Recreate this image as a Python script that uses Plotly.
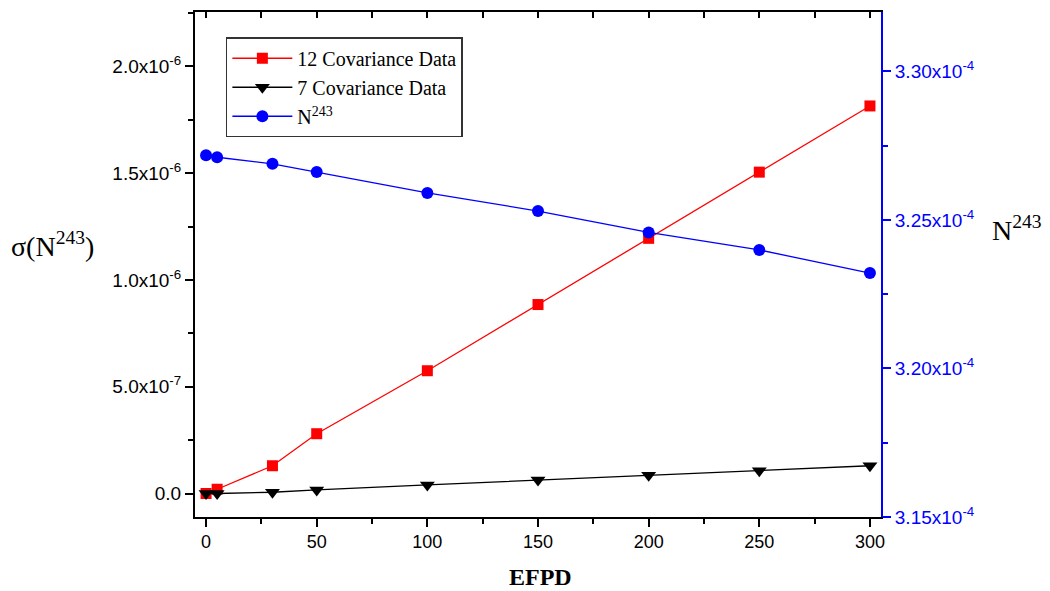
import plotly.graph_objects as go

efpd = [0, 5, 30, 50, 100, 150, 200, 250, 300]
cov12 = [0.0, 0.02e-6, 0.13e-6, 0.28e-6, 0.575e-6, 0.885e-6, 1.195e-6, 1.505e-6, 1.815e-6]
cov7 = [0.0, 0.0, 0.006e-6, 0.017e-6, 0.04e-6, 0.063e-6, 0.085e-6, 0.107e-6, 0.13e-6]
n243 = [3.2718e-4, 3.2711e-4, 3.2689e-4, 3.2661e-4, 3.2591e-4, 3.2530e-4, 3.2458e-4, 3.2399e-4, 3.2321e-4]

x_ticks = [0, 50, 100, 150, 200, 250, 300]
y_ticks = [0, 5e-7, 1e-6, 1.5e-6, 2e-6]
y_ticktext = ["0.0", "5.0x10<sup>-7</sup>", "1.0x10<sup>-6</sup>", "1.5x10<sup>-6</sup>", "2.0x10<sup>-6</sup>"]
y2_ticks = [3.15e-4, 3.20e-4, 3.25e-4, 3.30e-4]
y2_ticktext = ["3.15x10<sup>-4</sup>", "3.20x10<sup>-4</sup>", "3.25x10<sup>-4</sup>", "3.30x10<sup>-4</sup>"]

SERIF = "Liberation Serif, Times New Roman, serif"
SANS = "Liberation Sans, Arial, sans-serif"

fig = go.Figure()
fig.add_trace(go.Scatter(x=efpd, y=cov12, name="12 Covariance Data", mode="lines+markers",
                         line=dict(color="#ff0000", width=1.3),
                         marker=dict(symbol="square", size=11, color="#ff0000")))
fig.add_trace(go.Scatter(x=efpd, y=cov7, name="7 Covariance Data", mode="lines+markers",
                         line=dict(color="#000000", width=1.3),
                         marker=dict(symbol="triangle-down", size=13, color="#000000")))
fig.add_trace(go.Scatter(x=efpd, y=n243, name="N<sup>243</sup>", mode="lines+markers",
                         yaxis="y2",
                         line=dict(color="#0000ff", width=1.3),
                         marker=dict(symbol="circle", size=12, color="#0000ff")))
# dummy trace to activate the top mirror axis
fig.add_trace(go.Scatter(x=[], y=[], xaxis="x2", yaxis="y", showlegend=False, hoverinfo="skip"))

fig.update_layout(
    width=1050, height=591,
    margin=dict(l=195, r=169, t=12, b=74),
    paper_bgcolor="white", plot_bgcolor="white",
    showlegend=True,
    legend=dict(x=0.045, y=0.95, xanchor="left", yanchor="top",
                bgcolor="white", bordercolor="#333333", borderwidth=1.5,
                font=dict(family=SERIF, size=20, color="black"),
                tracegroupgap=0, itemwidth=60),
    xaxis=dict(range=[-5, 305], tickvals=x_ticks, ticks="outside", ticklen=8, tickwidth=1.5,
               tickcolor="black", showline=True, linecolor="black", linewidth=1.5,
               showgrid=False, zeroline=False,
               tickfont=dict(family=SANS, size=18, color="black"),
               minor=dict(tickmode="linear", tick0=0, dtick=25, ticks="outside", ticklen=5,
                          tickwidth=1.5, tickcolor="black", showgrid=False)),
    xaxis2=dict(range=[-5, 305], overlaying="x", side="top", tickmode="linear", tick0=0, dtick=25,
                ticks="inside", ticklen=6, tickwidth=1.5, tickcolor="black",
                showticklabels=False, showline=True, linecolor="black", linewidth=1.5,
                showgrid=False, zeroline=False),
    yaxis=dict(range=[-1.1e-7, 2.255e-6], tickvals=y_ticks, ticktext=y_ticktext,
               ticks="outside", ticklen=8, tickwidth=1.5, tickcolor="black",
               showline=True, linecolor="black", linewidth=2,
               showgrid=False, zeroline=False,
               tickfont=dict(family=SANS, size=19, color="black"),
               minor=dict(tickmode="linear", tick0=0, dtick=2.5e-7, ticks="outside", ticklen=5,
                          tickwidth=1.5, tickcolor="black", showgrid=False)),
    yaxis2=dict(range=[3.15e-4, 3.32e-4], overlaying="y", side="right",
                tickvals=y2_ticks, ticktext=y2_ticktext,
                ticks="outside", ticklen=8, tickwidth=1.5, tickcolor="#0000ff",
                showline=True, linecolor="#0000ff", linewidth=2,
                showgrid=False, zeroline=False,
                tickfont=dict(family=SANS, size=19, color="#0000ff"),
                minor=dict(tickmode="linear", tick0=3.15e-4, dtick=0.25e-5, ticks="outside", ticklen=5,
                           tickwidth=1.5, tickcolor="#0000ff", showgrid=False)),
    annotations=[
        dict(text="σ(N<sup>243</sup>)", xref="paper", yref="paper", x=-0.207, y=0.539,
             xanchor="center", yanchor="middle", showarrow=False,
             font=dict(family=SERIF, size=28, color="black")),
        dict(text="N<sup>243</sup>", xref="paper", yref="paper", x=1.198, y=0.572,
             xanchor="center", yanchor="middle", showarrow=False,
             font=dict(family=SERIF, size=28, color="black")),
        dict(text="<b>EFPD</b>", xref="paper", yref="paper", x=0.503, y=-0.119,
             xanchor="center", yanchor="middle", showarrow=False,
             font=dict(family=SERIF, size=24, color="black")),
    ],
)

fig.write_html("out.html")
